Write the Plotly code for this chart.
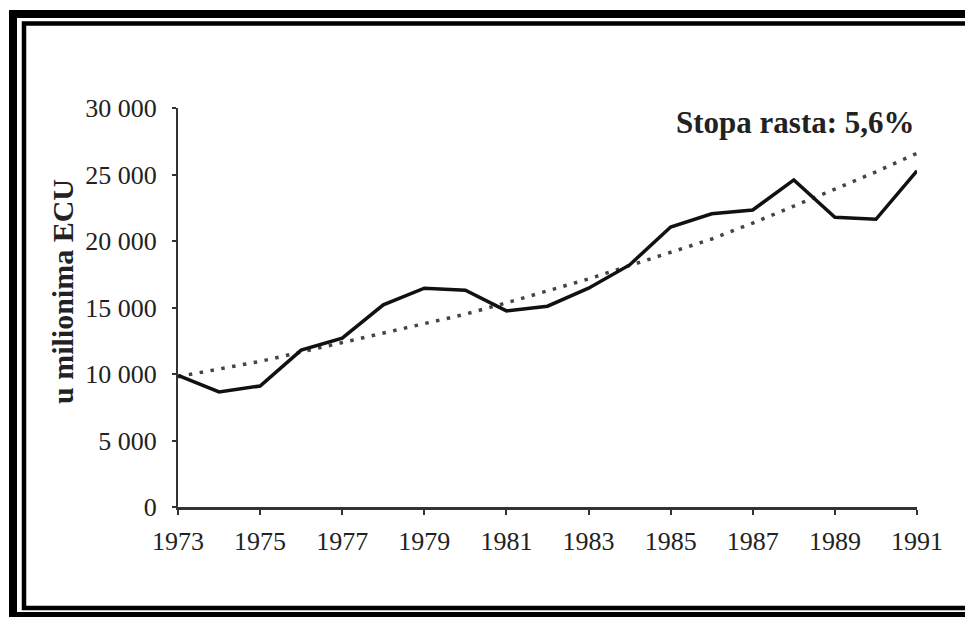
import plotly.graph_objects as go

years = list(range(1973, 1992))
values = [9900, 8650, 9100, 11800, 12700, 15200, 16450, 16300, 14750, 15100,
          16450, 18200, 21050, 22050, 22330, 24590, 21780, 21630, 25280]
trend = [9800, 10350, 10950, 11650, 12350, 13050, 13750, 14500, 15350, 16250,
         17150, 18150, 19150, 20150, 21350, 22600, 23900, 25200, 26600]

x_tick_vals = [1973, 1975, 1977, 1979, 1981, 1983, 1985, 1987, 1989, 1991]
x_tick_text = [str(v) for v in x_tick_vals]
y_tick_vals = [0, 5000, 10000, 15000, 20000, 25000, 30000]
y_tick_text = ["0", "5 000", "10 000", "15 000", "20 000", "25 000", "30 000"]

y_title = "u milionima ECU"
note = "Stopa rasta: 5,6%"

OFF = 8  # page body margin
W, H = 973 - OFF, 617 - OFF
L, R, T, B = 178, 917, 108, 507  # plot area pixel bounds in page coords


def px(x):
    return (x - L) / (R - L)


def py(y):
    return (B - y) / (B - T)


fig = go.Figure()
fig.add_trace(go.Scatter(x=years, y=trend, mode="lines",
                         line=dict(color="#444444", width=3.5, dash="3.5px,7.5px"),
                         hoverinfo="skip"))
fig.add_trace(go.Scatter(x=years, y=values, mode="lines",
                         line=dict(color="#111111", width=3.5)))

serif = "Liberation Serif"

fig.update_layout(
    width=W, height=H,
    margin=dict(l=L - OFF, r=973 - R, t=T - OFF, b=617 - B),
    paper_bgcolor="white", plot_bgcolor="white",
    showlegend=False,
    xaxis=dict(range=[1973, 1991], tickvals=x_tick_vals, ticktext=x_tick_text,
               showgrid=False, zeroline=False, showline=True,
               linecolor="#333333", linewidth=2.5,
               ticks="outside", ticklen=5, tickwidth=1.5, tickcolor="#333333",
               ticklabelstandoff=4,
               tickfont=dict(family=serif, size=26, color="#222222")),
    yaxis=dict(range=[0, 30000], tickvals=y_tick_vals, ticktext=y_tick_text,
               showgrid=False, zeroline=False, showline=True,
               linecolor="#333333", linewidth=2,
               ticks="outside", ticklen=4, tickwidth=1.5, tickcolor="#333333",
               ticklabelstandoff=10,
               tickfont=dict(family=serif, size=26, color="#222222")),
    annotations=[
        dict(text="<b>" + y_title + "</b>", xref="paper", yref="paper",
             x=px(62), y=py(292), textangle=-90, showarrow=False,
             xanchor="center", yanchor="middle",
             font=dict(family=serif, size=30, color="#222222")),
        dict(text="<b>" + note + "</b>", xref="paper", yref="paper",
             x=1.0, y=py(122), showarrow=False,
             xanchor="right", yanchor="middle",
             font=dict(family=serif, size=31, color="#222222")),
    ],
    shapes=[
        dict(type="rect", xref="paper", yref="paper",
             x0=px(13), x1=px(990), y0=py(14), y1=py(616),
             line=dict(color="black", width=8), layer="above"),
        dict(type="rect", xref="paper", yref="paper",
             x0=px(24), x1=px(971), y0=py(23.5), y1=py(608),
             line=dict(color="black", width=4.5), layer="above"),
    ],
)

fig.write_html("out.html")
